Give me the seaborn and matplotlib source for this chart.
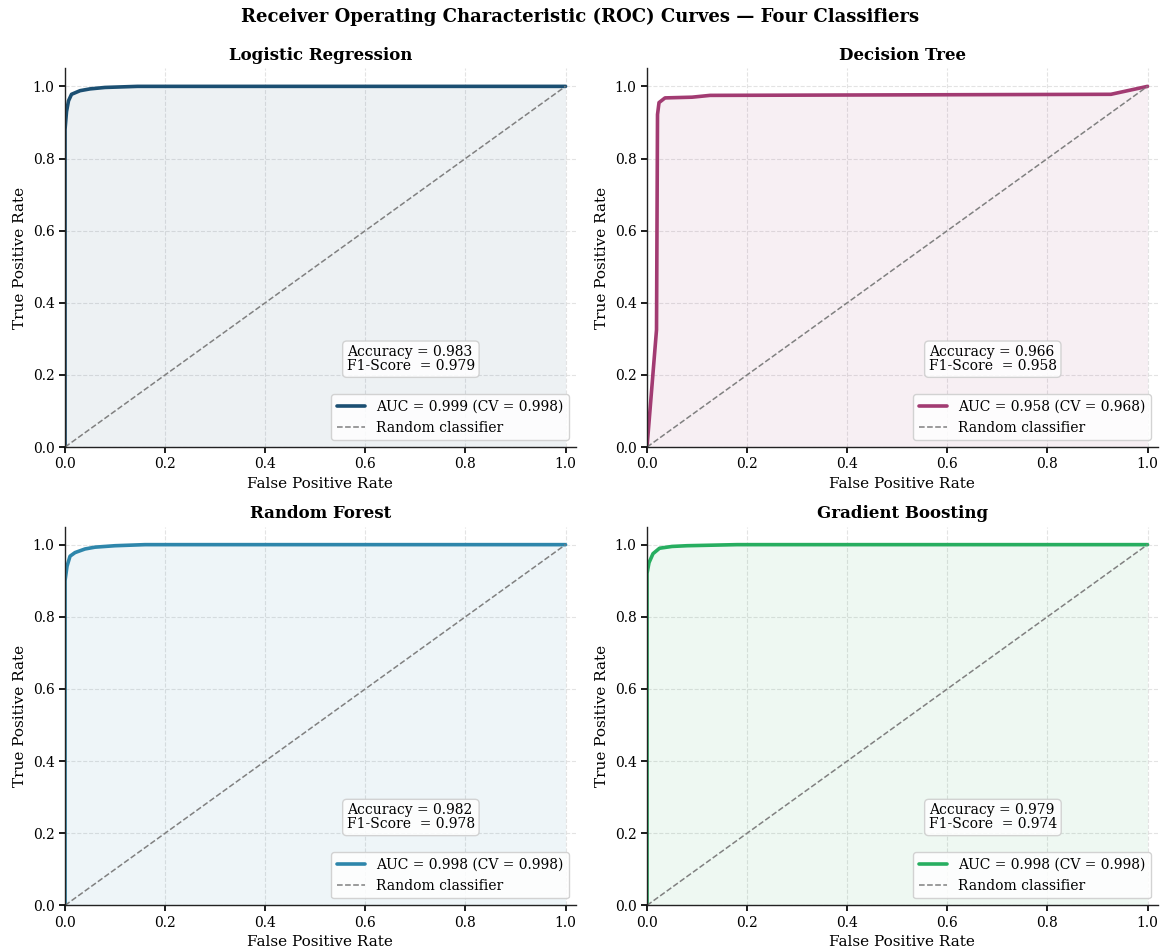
#!/usr/bin/env python3
"""ROC curves for four classifiers, 2x2 grid."""

import matplotlib
matplotlib.use("Agg")
import matplotlib.pyplot as plt
import pandas as pd
import seaborn as sns

MODELS = ["Logistic Regression", "Decision Tree", "Random Forest", "Gradient Boosting"]
COLORS = ["#1b4f72", "#a23b72", "#2e86ab", "#27ae60"]

LR_FPR = [0.0, 0.0, 0.003, 0.007, 0.013, 0.03, 0.05, 0.08, 0.145, 1.0]
LR_TPR = [0.0, 0.88, 0.93, 0.96, 0.978, 0.988, 0.993, 0.997, 1.0, 1.0]

DT_FPR = [0.0, 0.019, 0.021, 0.024, 0.036, 0.09, 0.126, 0.927, 1.0]
DT_TPR = [0.0, 0.325, 0.922, 0.955, 0.968, 0.970, 0.975, 0.978, 1.0]

RF_FPR = [0.0, 0.0, 0.004, 0.01, 0.02, 0.04, 0.06, 0.1, 0.16, 1.0]
RF_TPR = [0.0, 0.90, 0.94, 0.968, 0.978, 0.988, 0.993, 0.997, 1.0, 1.0]

GB_FPR = [0.0, 0.0, 0.004, 0.012, 0.025, 0.05, 0.08, 0.18, 1.0]
GB_TPR = [0.0, 0.92, 0.95, 0.975, 0.99, 0.995, 0.997, 1.0, 1.0]

AUC = [0.999, 0.958, 0.998, 0.998]
CV_AUC = [0.998, 0.968, 0.998, 0.998]
ACCURACY = [0.983, 0.966, 0.982, 0.979]
F1 = [0.979, 0.958, 0.978, 0.974]

CURVES = [(LR_FPR, LR_TPR), (DT_FPR, DT_TPR), (RF_FPR, RF_TPR), (GB_FPR, GB_TPR)]


def main() -> None:
    sns.set_theme(style="ticks", rc={
        "text.color": "black", "axes.labelcolor": "black",
        "xtick.color": "black", "ytick.color": "black",
        "axes.edgecolor": "#222222", "axes.linewidth": 1.0,
        "xtick.major.size": 4, "ytick.major.size": 4,
    })
    plt.rcParams["font.family"] = ["DejaVu Serif"]

    fig, axes = plt.subplots(2, 2, figsize=(11.61, 9.49), dpi=100)
    fig.subplots_adjust(left=0.056, right=0.997, top=0.928, bottom=0.046,
                        wspace=0.14, hspace=0.21)

    for ax, name, color, (fpr, tpr), auc, cv, acc, f1 in zip(
        axes.flat, MODELS, COLORS, CURVES, AUC, CV_AUC, ACCURACY, F1
    ):
        df = pd.DataFrame({"fpr": fpr, "tpr": tpr})
        sns.lineplot(data=df, x="fpr", y="tpr", ax=ax, sort=False, estimator=None,
                     color=color, linewidth=2.6,
                     label=f"AUC = {auc:.3f} (CV = {cv:.3f})")
        ax.fill_between(df["fpr"], df["tpr"], color=color, alpha=0.08, linewidth=0)
        ax.plot([0, 1], [0, 1], linestyle="--", color="grey", linewidth=1.1,
                label="Random classifier")

        ax.set_xlim(0, 1.02)
        ax.set_ylim(0, 1.05)
        ax.set_xticks([0, 0.2, 0.4, 0.6, 0.8, 1.0])
        ax.set_yticks([0, 0.2, 0.4, 0.6, 0.8, 1.0])
        ax.grid(True, linestyle="--", color="#dddddd", alpha=0.8, linewidth=0.8)
        ax.tick_params(labelsize=10)
        ax.set_xlabel("False Positive Rate", fontsize=11)
        ax.set_ylabel("True Positive Rate", fontsize=11)
        ax.set_title(name, fontsize=12, fontweight="bold")
        sns.despine(ax=ax)

        ax.text(0.552, 0.232, f"Accuracy = {acc:.3f}\nF1-Score  = {f1:.3f}",
                transform=ax.transAxes, fontsize=10, va="center", ha="left",
                linespacing=1.0,
                bbox=dict(boxstyle="round,pad=0.3", facecolor="white",
                          edgecolor="#cccccc", alpha=0.85))
        ax.legend(loc="lower right", fontsize=10, framealpha=0.85,
                  edgecolor="#cccccc", fancybox=True)

    fig.suptitle("Receiver Operating Characteristic (ROC) Curves — Four Classifiers",
                 fontsize=13, fontweight="bold", y=0.992)
    fig.savefig("out.png", dpi=100)
    plt.close(fig)


if __name__ == "__main__":
    main()
